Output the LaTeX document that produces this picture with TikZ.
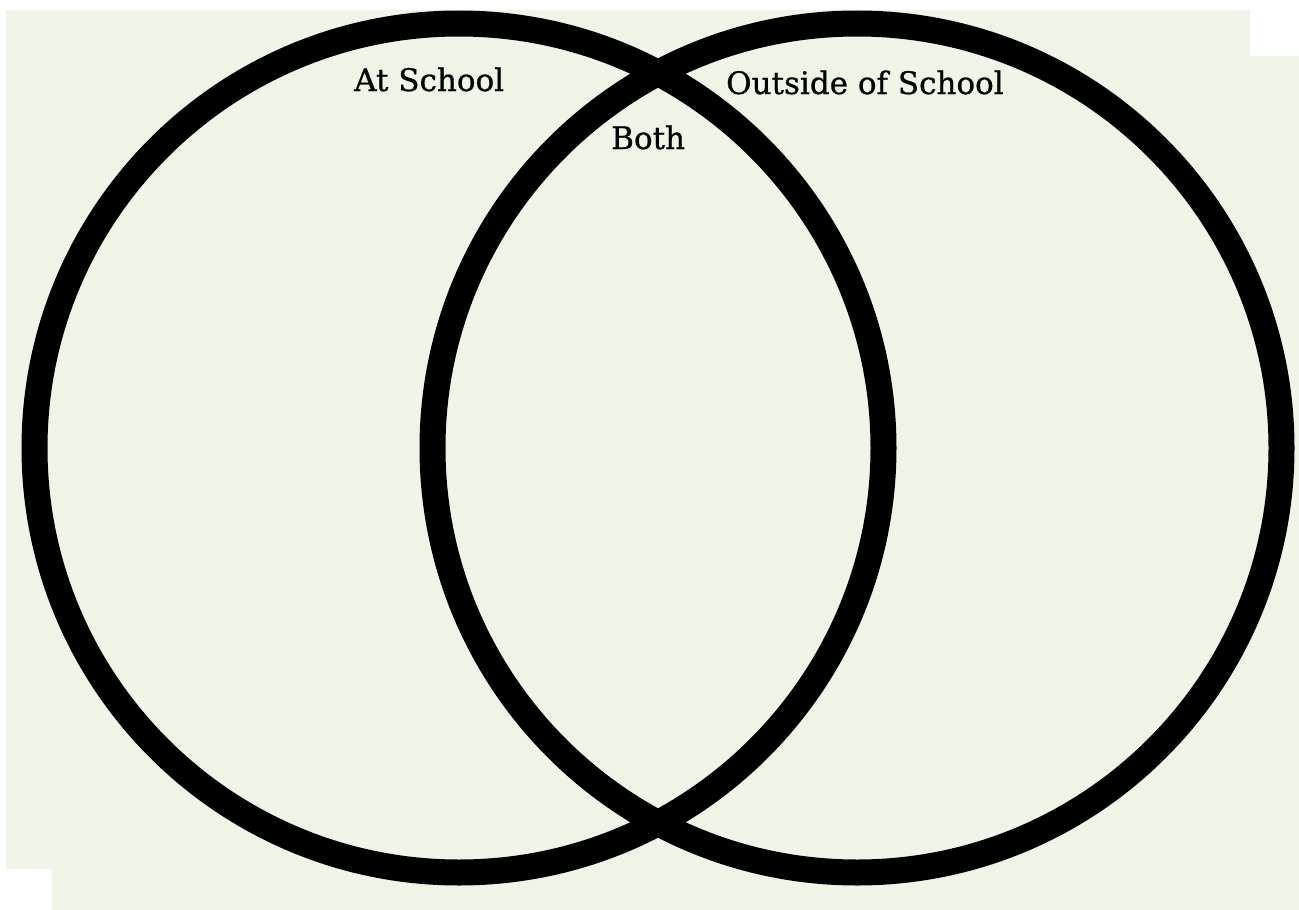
\documentclass[tikz,border=0pt]{standalone}
\usepackage{fontspec}
\setmainfont{DejaVu Serif}
\newfontfamily\lblfont[FakeBold=0.8]{DejaVu Serif}
\definecolor{bggreen}{RGB}{239,245,230}
\begin{document}
\begin{tikzpicture}[x=1pt,y=-1pt,
  ring/.style={draw=black,line width=26pt},
  lbl/.style={anchor=base west,inner sep=0pt,font=\lblfont\fontsize{31}{31}\selectfont}]
\useasboundingbox (0,0) rectangle (1299,910);
\fill[bggreen] (6,10) rectangle (1250,869);
\fill[bggreen] (52,56) rectangle (1299,910);
\draw[ring] (459,448) circle[radius=424.5];
\draw[ring] (857,448) circle[radius=424.5];
\node[lbl] (at) at (354,91) {At School};
\node[lbl] (both) at (611,149) {Both};
\node[lbl] (out) at (726,94) {Outside of School};
\end{tikzpicture}
\end{document}
